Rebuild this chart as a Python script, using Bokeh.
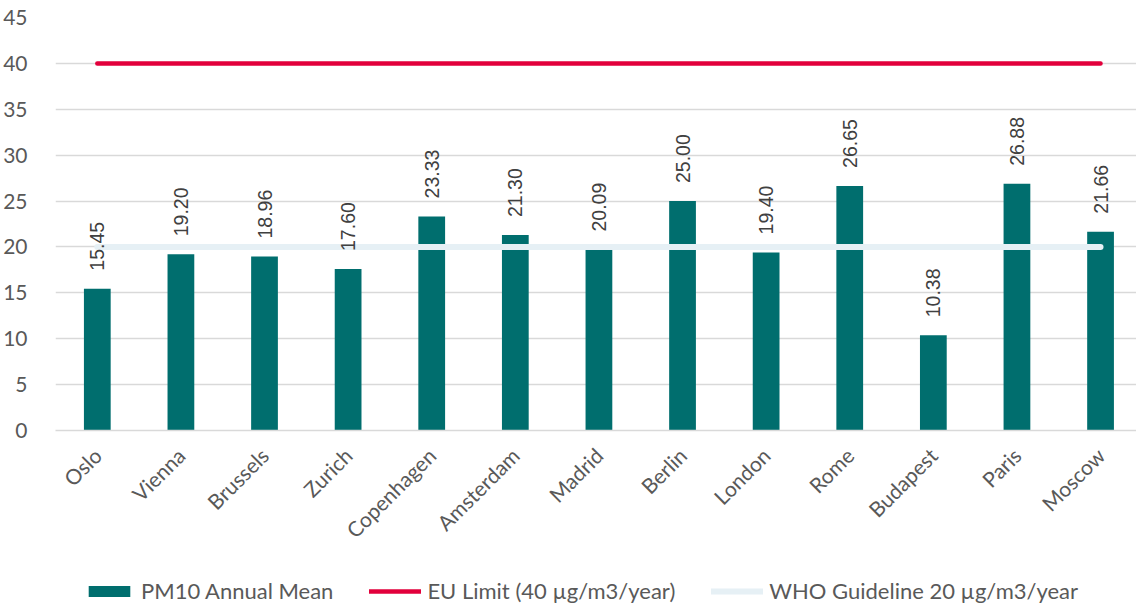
import math
from bokeh.plotting import figure
from bokeh.layouts import column
from bokeh.models import (ColumnDataSource, Range1d, FixedTicker, Legend, LegendItem)
from bokeh.core.properties import value
from bokeh.embed import file_html
from bokeh.resources import INLINE

cities = ["Oslo", "Vienna", "Brussels", "Zurich", "Copenhagen", "Amsterdam", "Madrid",
          "Berlin", "London", "Rome", "Budapest", "Paris", "Moscow"]
pm10 = [15.45, 19.20, 18.96, 17.60, 23.33, 21.30, 19.72, 25.00, 19.40, 26.65, 10.38, 26.88, 21.66]
pm10_labels = ["15.45", "19.20", "18.96", "17.60", "23.33", "21.30", "20.09", "25.00",
               "19.40", "26.65", "10.38", "26.88", "21.66"]
eu_limit = [40] * len(cities)
who_guideline = [20] * len(cities)
y_ticks = [0, 5, 10, 15, 20, 25, 30, 35, 40, 45]
series_names = ["PM10 Annual Mean", "EU Limit (40 µg/m3/year)", "WHO Guideline 20 µg/m3/year"]

idx = list(range(len(cities)))
src = ColumnDataSource(dict(x=idx, top=pm10, label=pm10_labels, eu=eu_limit, who=who_guideline))

AX_FONT = "Lato"
GREY = "#595959"
TEAL = "#006E6E"
RED = "#E2003B"
LIGHT = "#E6F0F5"
FS = "21px"

p = figure(width=1136, height=570, output_backend="svg", toolbar_location=None,
           x_range=Range1d(-0.5, 12.43), y_range=Range1d(0, 45),
           min_border_left=55, min_border_right=0, min_border_top=17, min_border_bottom=140)
p.outline_line_color = None

p.vbar(x="x", top="top", width=0.32, source=src, fill_color=TEAL, line_color=None)
p.line(x="x", y="eu", source=src, line_color=RED, line_width=4.5, line_cap="round")
p.line(x="x", y="who", source=src, line_color=LIGHT, line_width=6, line_cap="round")

p.text(x="x", y="top", text="label", source=src, angle=math.pi / 2, y_offset=-18,
       text_align="left", text_baseline="middle", text_font=value("Liberation Sans"),
       text_font_size="19.5px", text_color="#404040")

p.xgrid.grid_line_color = None
p.ygrid.grid_line_color = "#D9D9D9"
p.ygrid.grid_line_width = 1.5

p.yaxis.ticker = FixedTicker(ticks=y_ticks)
p.yaxis.axis_line_color = None
p.yaxis.major_tick_line_color = None
p.yaxis.minor_tick_line_color = None
p.yaxis.major_label_text_font = AX_FONT
p.yaxis.major_label_text_font_size = FS
p.yaxis.major_label_text_color = GREY
p.yaxis.major_label_standoff = 22

p.xaxis.ticker = FixedTicker(ticks=idx)
p.xaxis.major_label_overrides = {i: c for i, c in enumerate(cities)}
p.xaxis.major_label_orientation = math.pi / 4
p.xaxis.axis_line_color = "#D9D9D9"
p.xaxis.axis_line_width = 1.5
p.xaxis.major_tick_line_color = None
p.xaxis.minor_tick_line_color = None
p.xaxis.major_label_text_font = AX_FONT
p.xaxis.major_label_text_font_size = FS
p.xaxis.major_label_text_color = GREY
p.xaxis.major_label_standoff = 15

# legend strip below the chart
lg = figure(width=1136, height=38, output_backend="svg", toolbar_location=None,
            x_range=Range1d(0, 1), y_range=Range1d(0, 1),
            x_axis_location=None, y_axis_location=None,
            min_border_left=0, min_border_right=0, min_border_top=0, min_border_bottom=0)
lg.outline_line_color = None
lg.xgrid.grid_line_color = None
lg.ygrid.grid_line_color = None
r1 = lg.vbar(x=[5], top=[5], width=0.1, fill_color=TEAL, line_color=None)
r2 = lg.line(x=[5, 6], y=[5, 5], line_color=RED, line_width=4.5, line_cap="round")
r3 = lg.line(x=[5, 6], y=[5, 5], line_color=LIGHT, line_width=6, line_cap="round")
legend = Legend(items=[LegendItem(label=series_names[0], renderers=[r1]),
                       LegendItem(label=series_names[1], renderers=[r2]),
                       LegendItem(label=series_names[2], renderers=[r3])],
                orientation="horizontal", location=(28, 4),
                glyph_width=52, glyph_height=14, label_standoff=6, spacing=36,
                label_text_font=AX_FONT, label_text_font_size="22px", label_text_color=GREY,
                border_line_color=None, background_fill_alpha=0, padding=2, margin=0)
lg.add_layout(legend, "center")

layout = column(p, lg, spacing=0)
open("out.html", "w").write(file_html(layout, INLINE))
